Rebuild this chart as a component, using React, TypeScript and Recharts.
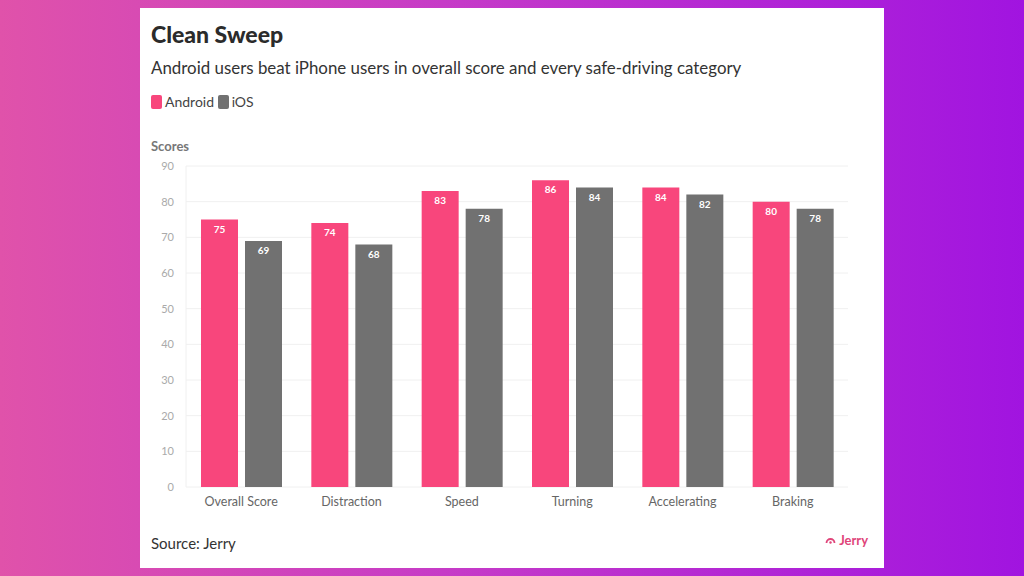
import React from 'react';
import { BarChart, Bar, XAxis, YAxis, CartesianGrid, LabelList } from 'recharts';

const categories = ['Overall Score', 'Distraction', 'Speed', 'Turning', 'Accelerating', 'Braking'];
const androidScores = [75, 74, 83, 86, 84, 80];
const iosScores = [69, 68, 78, 84, 82, 78];
const yTicks = [0, 10, 20, 30, 40, 50, 60, 70, 80, 90];

const PINK = '#f8467c';
const GREY = '#717171';
const FONT = 'Lato, "Noto Sans", sans-serif';

const data = categories.map((name, i) => ({
  name,
  android: androidScores[i],
  ios: iosScores[i],
}));

function Swatch({ color }: { color: string }) {
  return (
    <span
      style={{
        display: 'inline-block',
        width: 11,
        height: 14,
        borderRadius: 2,
        background: color,
        marginRight: 3,
        verticalAlign: -2,
      }}
    />
  );
}

export default function App() {
  return (
    <div
      style={{
        position: 'fixed',
        left: 0,
        top: 0,
        width: 1024,
        height: 576,
        background: 'linear-gradient(90deg, #e052aa 0%, #c53ac8 45%, #a114e0 100%)',
        fontFamily: FONT,
        overflow: 'hidden',
      }}
    >
      <div
        style={{
          position: 'absolute',
          left: 140,
          top: 8,
          width: 744,
          height: 560,
          background: '#ffffff',
        }}
      >
        <div style={{ position: 'absolute', left: 11, top: 12, fontSize: 23, fontWeight: 900, color: '#2b2b2b' }}>
          Clean Sweep
        </div>
        <div style={{ position: 'absolute', left: 11, top: 49, fontSize: 16.9, color: '#333' }}>
          Android users beat iPhone users in overall score and every safe-driving category
        </div>
        <div style={{ position: 'absolute', left: 11, top: 85, fontSize: 14, color: '#444' }}>
          <Swatch color={PINK} />
          Android <Swatch color={GREY} />
          iOS
        </div>
        <div style={{ position: 'absolute', left: 11, top: 130, fontSize: 13, fontWeight: 700, color: '#777' }}>
          Scores
        </div>

        <div style={{ position: 'absolute', left: 0, top: 148 }}>
          <BarChart
            width={720}
            height={361}
            data={data}
            margin={{ top: 10, right: 12, left: 0, bottom: 0 }}
            barSize={37}
            barGap={7}
          >
            <CartesianGrid vertical={false} stroke="#f0f0f0" />
            <XAxis
              dataKey="name"
              axisLine={false}
              tickLine={false}
              tickMargin={4}
              height={30}
              tick={{ fontSize: 12.5, fill: '#666', fontFamily: FONT }}
            />
            <YAxis
              domain={[0, 90]}
              ticks={yTicks}
              width={46}
              axisLine={{ stroke: '#f0f0f0' }}
              tickLine={false}
              tickMargin={6}
              tick={{ fontSize: 11, fill: '#aaa', fontFamily: FONT }}
            />
            <Bar dataKey="android" fill={PINK} isAnimationActive={false}>
              <LabelList
                dataKey="android"
                position="insideTop"
                offset={6}
                style={{ fill: '#fff', fontSize: 10, fontWeight: 700, fontFamily: FONT }}
              />
            </Bar>
            <Bar dataKey="ios" fill={GREY} isAnimationActive={false}>
              <LabelList
                dataKey="ios"
                position="insideTop"
                offset={6}
                style={{ fill: '#fff', fontSize: 10, fontWeight: 700, fontFamily: FONT }}
              />
            </Bar>
          </BarChart>
        </div>

        <div style={{ position: 'absolute', left: 11, top: 526, fontSize: 15, color: '#333' }}>Source: Jerry</div>
        <div
          style={{
            position: 'absolute',
            right: 16,
            top: 524,
            fontSize: 13,
            fontWeight: 700,
            color: '#e0457a',
            display: 'flex',
            alignItems: 'center',
            gap: 3,
          }}
        >
          <svg width={11} height={8} viewBox="0 0 11 8">
            <path d="M1.5 7 A4 4 0 0 1 9.5 7" fill="none" stroke="#e0457a" strokeWidth={1.8} />
            <circle cx={5.5} cy={6.5} r={1.2} fill="#e0457a" />
          </svg>
          Jerry
        </div>
      </div>
    </div>
  );
}
